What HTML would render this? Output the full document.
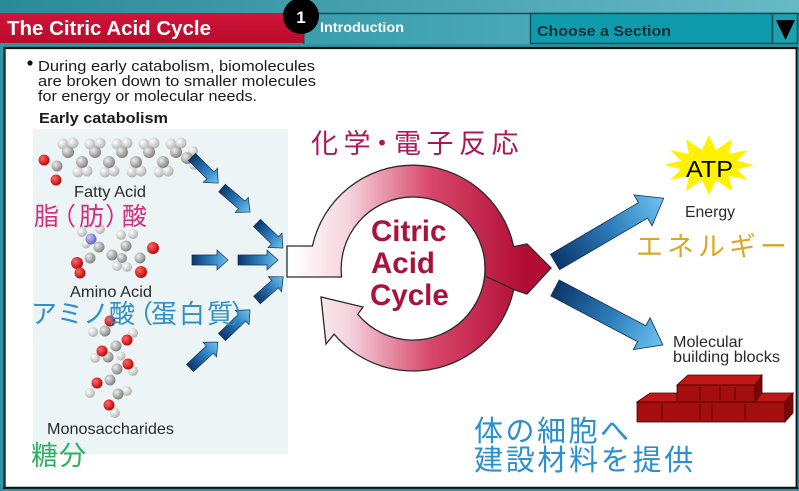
<!DOCTYPE html>
<html><head><meta charset="utf-8">
<style>
html,body{margin:0;padding:0;width:799px;height:491px;overflow:hidden;background:#2f95a4;}
svg{display:block}
.lat{font-family:"Liberation Sans",Arial,sans-serif;}
.jp{font-family:"Liberation Sans","Noto Sans CJK JP",sans-serif;}
</style></head>
<body>
<svg width="799" height="491" viewBox="0 0 799 491" xmlns="http://www.w3.org/2000/svg">
<defs>
 <linearGradient id="hdr" x1="0" x2="1" y1="0" y2="0"><stop offset="0" stop-color="#2a8a9a"/><stop offset="1" stop-color="#66bac6"/></linearGradient>
 <linearGradient id="red" x1="0" x2="0" y1="0" y2="1"><stop offset="0" stop-color="#d2143a"/><stop offset="1" stop-color="#b80c2a"/></linearGradient>
 <linearGradient id="tab" x1="0" x2="1" y1="0" y2="0"><stop offset="0" stop-color="#3a9dac"/><stop offset="1" stop-color="#4aa9b6"/></linearGradient>
 <linearGradient id="ring" gradientUnits="userSpaceOnUse" x1="292" y1="0" x2="522" y2="0">
  <stop offset="0" stop-color="#ffffff"/><stop offset="0.25" stop-color="#f5d2dc"/><stop offset="0.6" stop-color="#d8486c"/><stop offset="1" stop-color="#b20e35"/>
 </linearGradient>
 <linearGradient id="blue" x1="0" x2="1" y1="0" y2="0"><stop offset="0" stop-color="#0b366a"/><stop offset="0.5" stop-color="#2a7ab8"/><stop offset="1" stop-color="#6cc4f2"/></linearGradient>
 <radialGradient id="gG" cx="0.35" cy="0.35" r="0.7"><stop offset="0" stop-color="#eeeeee"/><stop offset="1" stop-color="#7d7d7d"/></radialGradient>
 <radialGradient id="gW" cx="0.35" cy="0.35" r="0.7"><stop offset="0" stop-color="#ffffff"/><stop offset="1" stop-color="#b0b0b0"/></radialGradient>
 <radialGradient id="gR" cx="0.35" cy="0.35" r="0.7"><stop offset="0" stop-color="#ff6a6a"/><stop offset="1" stop-color="#b80000"/></radialGradient>
 <radialGradient id="gB" cx="0.35" cy="0.35" r="0.7"><stop offset="0" stop-color="#c8c8ff"/><stop offset="1" stop-color="#6060b8"/></radialGradient>
</defs>

<!-- header -->
<rect x="0" y="0" width="799" height="491" fill="#2f95a4"/>
<rect x="0" y="0" width="799" height="14" fill="url(#hdr)"/>
<rect x="0" y="13" width="304" height="30" fill="url(#red)"/>
<rect x="304" y="13" width="226" height="31" fill="url(#tab)"/>
<line x1="304" y1="13.5" x2="799" y2="13.5" stroke="#1a4a55" stroke-width="1.5"/>
<line x1="304" y1="13" x2="304" y2="44" stroke="#1a4a55" stroke-width="1"/>
<rect x="530.5" y="13.5" width="242" height="30" fill="#0f9bab" stroke="#0d4f5a" stroke-width="1.5"/>
<rect x="772.5" y="13.5" width="25" height="30" fill="#1ba2b1" stroke="#0d4f5a" stroke-width="1.5"/>
<polygon points="776,20 795,20 785.5,40" fill="#000"/>
<circle cx="301" cy="16" r="18" fill="#000"/>
<text x="301" y="23" text-anchor="middle" class="lat" font-weight="bold" font-size="17" fill="#fff">1</text>
<text x="7" y="35" class="lat" font-weight="bold" font-size="20.5" fill="#fff" textLength="204" lengthAdjust="spacingAndGlyphs">The Citric Acid Cycle</text>
<text x="320" y="32" class="lat" font-weight="bold" font-size="14" fill="#fff" textLength="84" lengthAdjust="spacingAndGlyphs">Introduction</text>
<text x="537" y="36" class="lat" font-weight="bold" font-size="15" fill="#10303a" textLength="134" lengthAdjust="spacingAndGlyphs">Choose a Section</text>

<!-- content frame -->
<rect x="5" y="48" width="791" height="439" fill="#fff"/>
<line x1="3" y1="48" x2="798" y2="48" stroke="#111" stroke-width="2.2"/>
<line x1="4.5" y1="47" x2="4.5" y2="489" stroke="#1a363d" stroke-width="2.5"/>
<line x1="796.5" y1="47" x2="796.5" y2="489" stroke="#111" stroke-width="1.8"/>
<line x1="3" y1="487.8" x2="798" y2="487.8" stroke="#111" stroke-width="2.2"/>

<!-- intro text -->
<circle cx="30" cy="63" r="2.6" fill="#111"/>
<text class="lat" font-size="14.5" fill="#1a1a1a">
 <tspan x="38" y="71" textLength="277" lengthAdjust="spacingAndGlyphs">During early catabolism, biomolecules</tspan>
 <tspan x="38" y="86" textLength="278" lengthAdjust="spacingAndGlyphs">are broken down to smaller molecules</tspan>
 <tspan x="38" y="101" textLength="219" lengthAdjust="spacingAndGlyphs">for energy or molecular needs.</tspan>
</text>
<text x="39" y="123" class="lat" font-weight="bold" font-size="15" fill="#1a1a1a" textLength="129" lengthAdjust="spacingAndGlyphs">Early catabolism</text>

<!-- panel -->
<rect x="33" y="129" width="255" height="325" fill="#edf4f6"/>

<!-- fatty acid -->
<g>
 <g fill="url(#gW)">
  <circle cx="63" cy="144" r="5.5"/><circle cx="73" cy="143" r="5.5"/>
  <circle cx="90" cy="144" r="5.5"/><circle cx="100" cy="143" r="5.5"/>
  <circle cx="117" cy="144" r="5.5"/><circle cx="127" cy="143" r="5.5"/>
  <circle cx="144" cy="144" r="5.5"/><circle cx="154" cy="143" r="5.5"/>
  <circle cx="171" cy="144" r="5.5"/><circle cx="181" cy="143" r="5.5"/>
  <circle cx="78" cy="172" r="5.5"/><circle cx="87" cy="171" r="5.5"/>
  <circle cx="105" cy="172" r="5.5"/><circle cx="114" cy="171" r="5.5"/>
  <circle cx="132" cy="172" r="5.5"/><circle cx="141" cy="171" r="5.5"/>
  <circle cx="159" cy="172" r="5.5"/><circle cx="168" cy="171" r="5.5"/>
  <circle cx="193" cy="151" r="5"/><circle cx="194" cy="165" r="5"/>
 </g>
 <g fill="url(#gG)">
  <circle cx="57" cy="166" r="5.5"/>
  <circle cx="68" cy="152" r="6"/><circle cx="82" cy="162" r="6"/>
  <circle cx="95" cy="152" r="6"/><circle cx="109" cy="162" r="6"/>
  <circle cx="122" cy="152" r="6"/><circle cx="136" cy="162" r="6"/>
  <circle cx="149" cy="152" r="6"/><circle cx="163" cy="162" r="6"/>
  <circle cx="176" cy="152" r="6"/><circle cx="187" cy="158" r="6"/>
 </g>
 <circle cx="44" cy="160" r="5.5" fill="url(#gR)"/>
 <circle cx="56" cy="180" r="5.5" fill="url(#gR)"/>
</g>
<text x="74" y="197" class="lat" font-size="16" fill="#2a2a2a" textLength="72" lengthAdjust="spacingAndGlyphs">Fatty Acid</text>

<!-- amino acid -->
<g>
 <g fill="url(#gW)">
  <circle cx="82" cy="232" r="5"/><circle cx="100" cy="229" r="5"/>
  <circle cx="121" cy="235" r="5"/><circle cx="133" cy="234" r="5"/>
  <circle cx="117" cy="266" r="5"/><circle cx="127" cy="267" r="5"/>
  <circle cx="86" cy="244" r="4.5"/>
 </g>
 <circle cx="91" cy="239" r="5.5" fill="url(#gB)"/>
 <g fill="url(#gG)">
  <circle cx="99" cy="247" r="5.5"/><circle cx="112" cy="255" r="5.5"/>
  <circle cx="126" cy="246" r="5.5"/><circle cx="140" cy="258" r="5.5"/>
  <circle cx="90" cy="258" r="5.5"/><circle cx="122" cy="258" r="5"/>
 </g>
 <circle cx="153" cy="248" r="6" fill="url(#gR)"/>
 <circle cx="141" cy="272" r="6" fill="url(#gR)"/>
 <circle cx="77" cy="263" r="6" fill="url(#gR)"/>
 <circle cx="80" cy="273" r="5.5" fill="url(#gR)"/>
</g>
<text x="70" y="297" class="lat" font-size="16" fill="#2a2a2a" textLength="82" lengthAdjust="spacingAndGlyphs">Amino Acid</text>

<!-- monosaccharide -->
<g>
 <g fill="url(#gW)">
  <circle cx="93" cy="332" r="5"/><circle cx="133" cy="333" r="5"/>
  <circle cx="95" cy="358" r="5"/><circle cx="133" cy="371" r="5"/>
  <circle cx="90" cy="393" r="5"/><circle cx="127" cy="391" r="5"/>
  <circle cx="115" cy="413" r="5"/><circle cx="121" cy="356" r="4.5"/>
 </g>
 <g fill="url(#gG)">
  <circle cx="105" cy="331" r="5.5"/><circle cx="116" cy="346" r="5.5"/>
  <circle cx="108" cy="357" r="5.5"/><circle cx="117" cy="369" r="5.5"/>
  <circle cx="110" cy="380" r="5.5"/><circle cx="118" cy="394" r="5.5"/>
 </g>
 <g fill="url(#gR)">
  <circle cx="110" cy="321" r="5.5"/><circle cx="127" cy="340" r="5.5"/>
  <circle cx="102" cy="351" r="5.5"/><circle cx="128" cy="364" r="5.5"/>
  <circle cx="97" cy="383" r="5.5"/><circle cx="109" cy="405" r="5.5"/>
 </g>
</g>
<text x="47" y="434" class="lat" font-size="16" fill="#2a2a2a" textLength="127" lengthAdjust="spacingAndGlyphs">Monosaccharides</text>

<!-- small blue arrows -->
<g fill="url(#blue)" stroke="#14304e" stroke-width="0.7">
 <path transform="translate(192,157) rotate(45)" d="M0,-5 H26 V-10 L37,0 L26,10 V5 H0 Z"/>
 <path transform="translate(222,188) rotate(40.6)" d="M0,-5 H26 V-10 L37,0 L26,10 V5 H0 Z"/>
 <path transform="translate(257,223) rotate(44)" d="M0,-5 H25 V-10 L36,0 L25,10 V5 H0 Z"/>
 <path transform="translate(192,260)" d="M0,-5 H25 V-10 L36,0 L25,10 V5 H0 Z"/>
 <path transform="translate(238,260)" d="M0,-5 H29 V-10 L40,0 L29,10 V5 H0 Z"/>
 <path transform="translate(257,300) rotate(-41.5)" d="M0,-5 H24 V-10 L35,0 L24,10 V5 H0 Z"/>
 <path transform="translate(222,337) rotate(-44)" d="M0,-5 H28 V-10 L39,0 L28,10 V5 H0 Z"/>
 <path transform="translate(190,368) rotate(-43)" d="M0,-5 H27 V-10 L38,0 L27,10 V5 H0 Z"/>
</g>

<!-- big blue arrows -->
<g fill="url(#blue)" stroke="#14304e" stroke-width="0.8">
 <path transform="translate(555,262) rotate(-30.4)" d="M0,-9 H102 V-18 L126,0 L102,18 V9 H0 Z"/>
 <path transform="translate(555,288) rotate(27.8)" d="M0,-9 H98 V-18 L122,0 L98,18 V9 H0 Z"/>
</g>

<!-- citric acid cycle ring -->
<g fill="url(#ring)" stroke="#2a2a2a" stroke-width="1.3" stroke-linejoin="miter">
 <path d="M484.7,261.7 L515.6,259 A103,103 0 0 1 334.1,334.2 L326,344 L321,297 L363,307 L357.8,314.3 A72,72 0 0 0 484.7,261.7 Z"/>
 <path d="M287,246 L312.4,246 A103,103 0 0 1 513.7,246.6 L527,244 L551,268 L527,294 L515,290 L484.8,276 A72,72 0 1 0 341.6,277 L287,277 Z"/>
</g>
<text class="lat" font-weight="bold" font-size="29.5" fill="#a8123c">
 <tspan x="371" y="241">Citric</tspan>
 <tspan x="371" y="273">Acid</tspan>
 <tspan x="370" y="305">Cycle</tspan>
</text>

<!-- ATP star -->
<polygon fill="#fff200" points="754,165 737,169.4 748,180 729,176 732,191 716,180 709,195 702,180 686,191 689,176 670,180 681,169.4 664,165 681,160.6 670,150 689,154 686,139 702,150 709,135 716,150 732,139 729,154 748,150 737,160.6"/>
<text x="686" y="177" class="lat" font-size="23" fill="#000" textLength="47" lengthAdjust="spacingAndGlyphs">ATP</text>
<text x="685" y="217" class="lat" font-size="16" fill="#2a2a2a" textLength="50" lengthAdjust="spacingAndGlyphs">Energy</text>
<text class="lat" font-size="16" fill="#2a2a2a">
 <tspan x="673" y="347" textLength="70" lengthAdjust="spacingAndGlyphs">Molecular</tspan>
 <tspan x="673" y="362" textLength="107" lengthAdjust="spacingAndGlyphs">building blocks</tspan>
</text>

<!-- bricks -->
<g stroke="#4a0000" stroke-width="0.8">
 <polygon points="637,402 650,393 793,393 785,402" fill="#c01818"/>
 <rect x="637" y="402" width="148" height="20" fill="#a50e0e"/>
 <polygon points="785,402 793,393 793,413 785,422" fill="#7d0707"/>
 <polygon points="677,385 688,375 762,375 755,385" fill="#c01818"/>
 <rect x="677" y="385" width="78" height="17" fill="#a50e0e"/>
 <polygon points="755,385 762,375 762,393 755,402" fill="#7d0707"/>
 <g stroke="#5a0000" stroke-width="1">
  <line x1="662" y1="404" x2="662" y2="420"/><line x1="700" y1="404" x2="700" y2="420"/>
  <line x1="712" y1="404" x2="712" y2="420"/><line x1="745" y1="404" x2="745" y2="420"/>
  <line x1="700" y1="387" x2="700" y2="400"/><line x1="720" y1="387" x2="720" y2="400"/>
  <line x1="735" y1="387" x2="735" y2="400"/>
 </g>
</g>

<!-- Japanese annotations -->
<text class="jp" font-size="27" fill="#a8185a" x="311 343.5 368.5 394 426.5 459 491.5" y="153">化学・電子反応</text>
<text class="jp" font-size="25" fill="#d0307f" x="34 51 79 105 122" y="225">脂（肪）酸</text>
<text class="jp" font-size="26" fill="#2f90c8" x="31 57 83 109 127 151 179 207 231" y="323">アミノ酸（蛋白質）</text>
<text class="jp" font-size="27" fill="#2eb062" x="31 59" y="465">糖分</text>
<text class="jp" font-size="27" fill="#d8a828" x="636 667 698 729 760" y="256">エネルギー</text>
<text class="jp" font-size="29" fill="#2a90d0" x="474 505.5 537 568.5 600" y="441">体の細胞へ</text>
<text class="jp" font-size="29" fill="#2a90d0" x="474 505.7 537.4 569.1 600.8 632.5 664.2" y="470">建設材料を提供</text>
</svg>
</body></html>
